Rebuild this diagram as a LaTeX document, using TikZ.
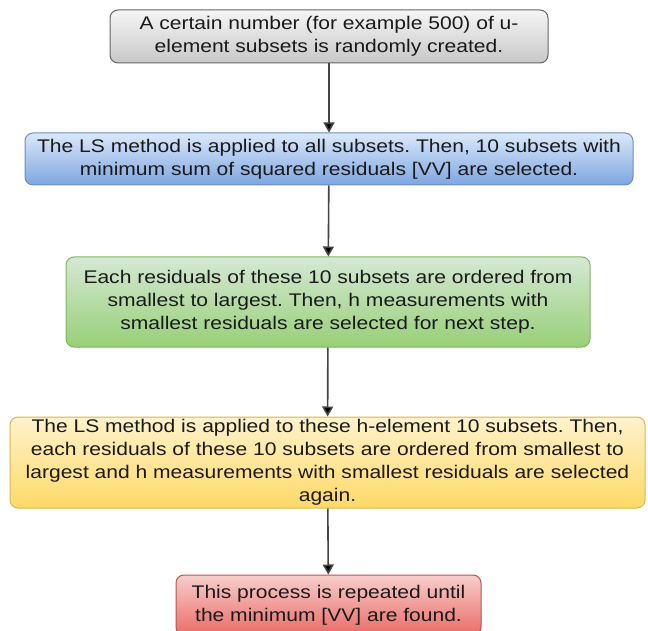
\documentclass[tikz,border=0pt]{standalone}
\usepackage{fontspec}
\setmainfont{Liberation Sans}[FakeStretch=1.15]
\usepackage{tikz}
\usetikzlibrary{arrows.meta}
\definecolor{greytop}{HTML}{F5F5F5}
\definecolor{greybot}{HTML}{C8C8C8}
\definecolor{greyline}{HTML}{666666}
\definecolor{bluetop}{HTML}{DAE8FC}
\definecolor{bluebot}{HTML}{7EA6E0}
\definecolor{blueline}{HTML}{6C8EBF}
\definecolor{greentop}{HTML}{D5E8D4}
\definecolor{greenbot}{HTML}{97D077}
\definecolor{greenline}{HTML}{82B366}
\definecolor{yellowtop}{HTML}{FFF2CC}
\definecolor{yellowbot}{HTML}{FFD966}
\definecolor{yellowline}{HTML}{D6B656}
\definecolor{redtop}{HTML}{F8CECC}
\definecolor{redbot}{HTML}{EA6B66}
\definecolor{redline}{HTML}{B85450}
\definecolor{flowtext}{HTML}{1A1A1A}
\definecolor{flowarrow}{HTML}{444444}

\begin{document}
\frenchspacing
\begin{tikzpicture}[x=1pt, y=-1pt,
  stepbox/.style={rounded corners=8pt, line width=1pt, align=center,
    text=flowtext, font=\fontsize{18.3}{23}\selectfont, inner sep=2pt},
  flow/.style={draw=flowarrow, line width=1.6pt,
    -{Triangle[width=11pt, length=10pt, fill=black]}}]
  \useasboundingbox (0,0) rectangle (648,631);
  \begin{scope}
  \clip (0,0) rectangle (648,631);
  \node[stepbox, draw=greyline, top color=greytop, bottom color=greybot,
    minimum width=438pt, minimum height=53pt] (subsets) at (329,36.5)
    {A certain number (for example 500) of u-\\element subsets is randomly created.};
  \node[stepbox, draw=blueline, top color=bluetop, bottom color=bluebot,
    minimum width=608pt, minimum height=52pt] (lsall) at (329,159)
    {The LS method is applied to all subsets. Then, 10 subsets with\\minimum sum of squared residuals [VV] are selected.};
  \node[stepbox, draw=greenline, top color=greentop, bottom color=greenbot,
    minimum width=524pt, minimum height=90pt] (order) at (328,302)
    {Each residuals of these 10 subsets are ordered from\\smallest to largest. Then, h measurements with\\smallest residuals are selected for next step.};
  \node[stepbox, draw=yellowline, top color=yellowtop, bottom color=yellowbot,
    minimum width=635pt, minimum height=91pt] (lsh) at (327.5,462.5)
    {The LS method is applied to these h-element 10 subsets. Then,\\each residuals of these 10 subsets are ordered from smallest to\\largest and h measurements with smallest residuals are selected\\again.};
  \node[stepbox, draw=redline, top color=redtop, bottom color=redbot,
    minimum width=305pt, minimum height=60pt] (repeat) at (328.5,605)
    {This process is repeated until\\the minimum [VV] are found.};
  \end{scope}

  \draw[flow] (subsets) -- (lsall);
  \draw[flow] (lsall) -- (order);
  \draw[flow] (order) -- (lsh);
  \draw[flow] (lsh) -- (repeat);
\end{tikzpicture}
\end{document}
